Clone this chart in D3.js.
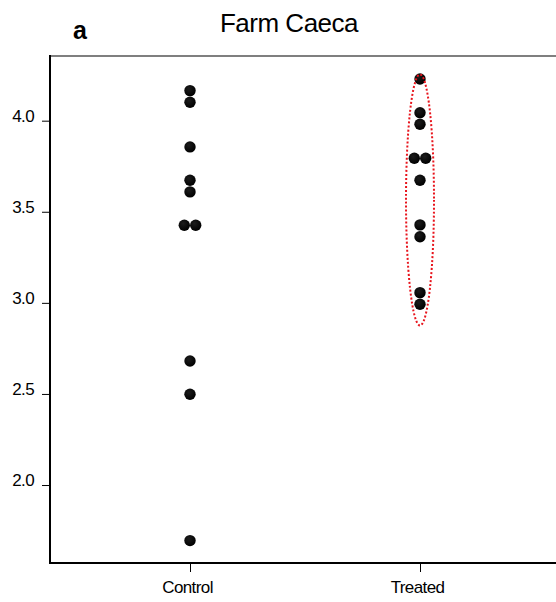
<!DOCTYPE html>
<html>
<head>
<meta charset="utf-8">
<script src="https://cdn.jsdelivr.net/npm/d3@7"></script>
<style>
  body { margin: 0; background: #fff; }
  svg { display: block; font-family: "Liberation Sans", Arial, sans-serif; }
</style>
</head>
<body>
<svg id="chart" width="556" height="602"></svg>
<script>
var groups = ["Control", "Treated"];
var controlValues = [4.165, 4.101, 3.856, 3.673, 3.609, 3.426, 3.426, 2.681, 2.498, 1.695];
var treatedValues = [4.229, 4.044, 3.980, 3.794, 3.794, 3.673, 3.428, 3.363, 3.056, 2.992];
var yTicks = [2.0, 2.5, 3.0, 3.5, 4.0];
var ellipseRange = [2.876, 4.254]; // dotted ring round the treated group

// note: "top" is taken by window.top, so plot edges get their own names
var plotLeft = 50, plotTop = 56, plotBottom = 563, plotRight = 556;

var svg = d3.select("#chart");

var x = d3.scalePoint()
    .domain(groups)
    .range([190, 420]);

var y = d3.scaleLinear()
    .domain([1.572, 4.355])
    .range([plotBottom, plotTop]);

// title and panel letter
svg.append("text")
    .attr("x", 289)
    .attr("y", 32)
    .attr("text-anchor", "middle")
    .attr("font-size", 26)
    .attr("letter-spacing", "-0.5px")
    .text("Farm Caeca");

svg.append("text")
    .attr("x", 73)
    .attr("y", 39)
    .attr("font-size", 25)
    .attr("font-weight", "bold")
    .text("a");

// top frame line
svg.append("line")
    .attr("x1", plotLeft).attr("x2", plotRight)
    .attr("y1", plotTop).attr("y2", plotTop)
    .attr("stroke", "#555")
    .attr("stroke-width", 1.5);

// y axis
var yAxis = svg.append("g")
    .attr("transform", "translate(" + plotLeft + ",0)")
    .call(d3.axisLeft(y)
        .tickValues(yTicks)
        .tickFormat(d3.format(".1f"))
        .tickSize(8)
        .tickPadding(8));
yAxis.select(".domain").remove();
yAxis.selectAll(".tick line").attr("stroke", "#000");
yAxis.selectAll(".tick text")
    .attr("font-size", 17)
    .attr("font-family", "Liberation Sans, Arial, sans-serif")
    .attr("letter-spacing", "-0.6px")
    .attr("fill", "#000")
    .attr("dy", "0.02em");

svg.append("line")
    .attr("x1", plotLeft).attr("x2", plotLeft)
    .attr("y1", plotTop - 1).attr("y2", plotBottom + 1)
    .attr("stroke", "#000")
    .attr("stroke-width", 2);

// x axis
var xAxis = svg.append("g")
    .attr("transform", "translate(0," + plotBottom + ")")
    .call(d3.axisBottom(x)
        .tickSize(9)
        .tickPadding(9));
xAxis.select(".domain").remove();
xAxis.selectAll(".tick line").attr("stroke", "#000");
xAxis.selectAll(".tick text")
    .attr("font-size", 17)
    .attr("font-family", "Liberation Sans, Arial, sans-serif")
    .attr("letter-spacing", "-0.6px")
    .attr("fill", "#000")
    .attr("x", -3);

svg.append("line")
    .attr("x1", plotLeft - 1).attr("x2", plotRight)
    .attr("y1", plotBottom).attr("y2", plotBottom)
    .attr("stroke", "#000")
    .attr("stroke-width", 2);

// points, with tied values set side by side
var dotR = 5.7;
var points = [];
[controlValues, treatedValues].forEach(function(vals, gi) {
    var counts = d3.rollup(vals, function(v) { return v.length; }, function(d) { return d; });
    var seen = new Map();
    vals.forEach(function(v) {
        var n = counts.get(v);
        var k = seen.get(v) || 0;
        seen.set(v, k + 1);
        points.push({ group: groups[gi], value: v, offset: (k - (n - 1) / 2) * dotR * 2 });
    });
});

var grad = svg.append("defs").append("radialGradient")
    .attr("id", "dotFill")
    .attr("cx", "40%").attr("cy", "35%").attr("r", "65%");
grad.append("stop").attr("offset", "0%").attr("stop-color", "#1c1c1c");
grad.append("stop").attr("offset", "100%").attr("stop-color", "#000");

svg.selectAll("circle.dot")
    .data(points)
    .enter().append("circle")
    .attr("class", "dot")
    .attr("cx", function(d) { return x(d.group) + d.offset; })
    .attr("cy", function(d) { return y(d.value); })
    .attr("r", dotR)
    .attr("fill", "url(#dotFill)");

// red dotted ellipse
svg.append("ellipse")
    .attr("cx", x("Treated"))
    .attr("cy", (y(ellipseRange[0]) + y(ellipseRange[1])) / 2)
    .attr("rx", 14)
    .attr("ry", (y(ellipseRange[0]) - y(ellipseRange[1])) / 2)
    .attr("fill", "none")
    .attr("stroke", "#e8141c")
    .attr("stroke-width", 2)
    .attr("stroke-dasharray", "2,2");
</script>
</body>
</html>
